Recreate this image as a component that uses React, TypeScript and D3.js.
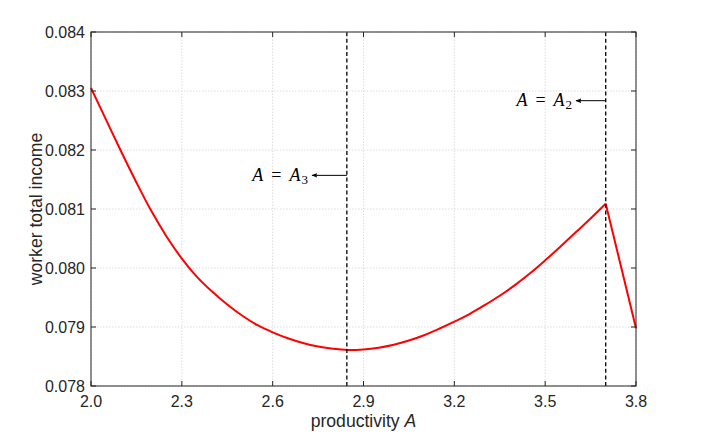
import React from "react";
import * as d3 from "d3";

const productivity = [
  2.0, 2.05, 2.1, 2.15, 2.2, 2.25, 2.3, 2.35, 2.4, 2.45, 2.5, 2.55, 2.6, 2.65, 2.7, 2.75, 2.8, 2.85,
  2.9, 2.95, 3.0, 3.05, 3.1, 3.15, 3.2, 3.25, 3.3, 3.35, 3.4, 3.45, 3.5, 3.55, 3.6, 3.65, 3.7, 3.8,
];
const income = [
  0.08305, 0.08251, 0.08197, 0.08145, 0.08096, 0.08053, 0.08016, 0.07985, 0.0796, 0.07938, 0.07919,
  0.07903, 0.07891, 0.07881, 0.07873, 0.07867, 0.07863, 0.07861, 0.07862, 0.07865, 0.0787, 0.07877,
  0.07886, 0.07897, 0.07909, 0.07922, 0.07937, 0.07953, 0.07971, 0.07991, 0.08013, 0.08036, 0.0806,
  0.08084, 0.08109, 0.07898,
];
const kinkA = 3.7;
const xTicks = [2.0, 2.3, 2.6, 2.9, 3.2, 3.5, 3.8];
const yTicks = [0.078, 0.079, 0.08, 0.081, 0.082, 0.083, 0.084];
const thresholds = [
  { name: "3", at: 2.845, arrowTo: 2.73, level: 0.08157 },
  { name: "2", at: 3.7, arrowTo: 3.602, level: 0.082836 },
];

const W = 702;
const H = 434;
const M = { left: 91, right: 66, top: 32, bottom: 48 };

export default function App() {
  const x = d3.scaleLinear().domain([2.0, 3.8]).range([M.left, W - M.right]);
  const y = d3.scaleLinear().domain([0.078, 0.084]).range([H - M.bottom, M.top]);
  const pts = productivity.map((a, i) => [a, income[i]] as [number, number]);
  const smooth = pts.filter((p) => p[0] <= kinkA);
  const tail = pts.filter((p) => p[0] >= kinkA);
  const lineSmooth = d3
    .line<[number, number]>()
    .x((d) => x(d[0]))
    .y((d) => y(d[1]))
    .curve(d3.curveCatmullRom.alpha(0.5));
  const lineLin = d3
    .line<[number, number]>()
    .x((d) => x(d[0]))
    .y((d) => y(d[1]));
  const x0 = x(2.0), x1 = x(3.8), y0 = y(0.078), y1 = y(0.084);
  const axisColor = "#262626";
  const tickLen = 5;
  return (
    <svg
      width={W}
      height={H}
      style={{ position: "fixed", left: 0, top: 0, background: "#fff" }}
      fontFamily="'Liberation Sans', Arial, sans-serif"
    >
      <defs>
        <marker id="ah" viewBox="0 0 10 10" refX="9" refY="5" markerWidth="6" markerHeight="6" orient="auto-start-reverse">
          <path d="M0,1 L10,5 L0,9 L2,5 Z" fill="#000" />
        </marker>
      </defs>
      {/* grid */}
      {xTicks.map((t) => (
        <line key={"gx" + t} x1={x(t)} x2={x(t)} y1={y0} y2={y1} stroke="#d4d4d4" strokeWidth={0.8} strokeDasharray="1.5,1.5" />
      ))}
      {yTicks.map((t) => (
        <line key={"gy" + t} x1={x0} x2={x1} y1={y(t)} y2={y(t)} stroke="#d4d4d4" strokeWidth={0.8} strokeDasharray="1.5,1.5" />
      ))}
      {/* curve */}
      <path d={lineSmooth(smooth) || ""} fill="none" stroke="#ff0000" strokeWidth={2} strokeLinejoin="round" />
      <path d={lineLin(tail) || ""} fill="none" stroke="#ff0000" strokeWidth={2} />
      {/* thresholds */}
      {thresholds.map((t) => (
        <g key={t.name}>
          <line x1={x(t.at)} x2={x(t.at)} y1={y0} y2={y1} stroke="#000" strokeWidth={1.3} strokeDasharray="4,2.6" />
          <line x1={x(t.at)} x2={x(t.arrowTo)} y1={y(t.level)} y2={y(t.level)} stroke="#000" strokeWidth={1} markerEnd="url(#ah)" />
          <text
            x={x(t.arrowTo) - 4}
            y={y(t.level) + 5.5}
            textAnchor="end"
            fontFamily="'Liberation Serif', 'Times New Roman', serif"
            fontSize={18}
            fill="#000"
          >
            <tspan fontStyle="italic">A</tspan>
            <tspan dx={8}>=</tspan>
            <tspan dx={8} fontStyle="italic">A</tspan>
            <tspan fontSize={13} dx={1} dy={3}>{t.name}</tspan>
          </text>
        </g>
      ))}
      {/* box */}
      <rect x={x0} y={y1} width={x1 - x0} height={y0 - y1} fill="none" stroke={axisColor} strokeWidth={1} />
      {xTicks.map((t) => (
        <g key={"tx" + t}>
          <line x1={x(t)} x2={x(t)} y1={y0} y2={y0 - tickLen} stroke={axisColor} />
          <line x1={x(t)} x2={x(t)} y1={y1} y2={y1 + tickLen} stroke={axisColor} />
          <text x={x(t)} y={y0 + 21} textAnchor="middle" fontSize={16} fill={axisColor}>
            {d3.format(".1f")(t)}
          </text>
        </g>
      ))}
      {yTicks.map((t) => (
        <g key={"ty" + t}>
          <line x1={x0} x2={x0 + tickLen} y1={y(t)} y2={y(t)} stroke={axisColor} />
          <line x1={x1} x2={x1 - tickLen} y1={y(t)} y2={y(t)} stroke={axisColor} />
          <text x={x0 - 6} y={y(t) + 5.5} textAnchor="end" fontSize={16} fill={axisColor}>
            {d3.format(".3f")(t)}
          </text>
        </g>
      ))}
      <text x={(x0 + x1) / 2} y={427} textAnchor="middle" fontSize={17.6} fill={axisColor}>
        productivity <tspan fontStyle="italic">A</tspan>
      </text>
      <text
        transform={`translate(42,${(y0 + y1) / 2}) rotate(-90)`}
        textAnchor="middle"
        fontSize={17.6}
        fill={axisColor}
      >
        worker total income
      </text>
    </svg>
  );
}
